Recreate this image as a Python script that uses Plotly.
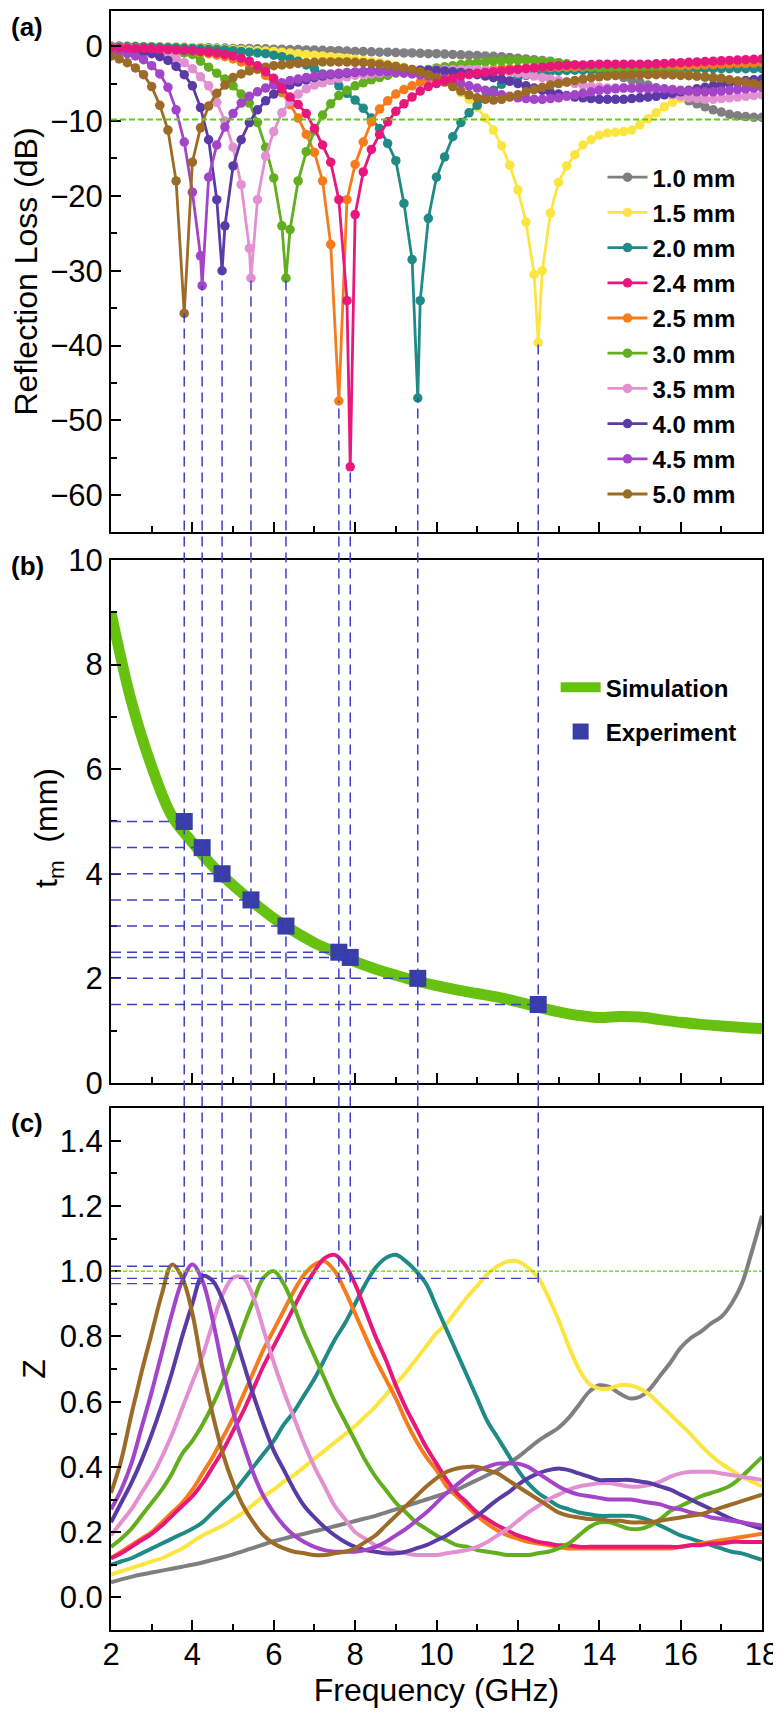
import plotly.graph_objects as go

# ---------------- data ----------------
thickness_labels = ["1.0 mm", "1.5 mm", "2.0 mm", "2.4 mm", "2.5 mm",
                    "3.0 mm", "3.5 mm", "4.0 mm", "4.5 mm", "5.0 mm"]
colors = ["#7f7f81", "#fde541", "#1f8a86", "#e8177c", "#f57c1c",
          "#61ae1f", "#e290d1", "#5a3ba6", "#a444c8", "#9c6b27"]

# frequency grid of the reflection-loss measurements (GHz)
freq_rl = [round(2.0 + 0.2 * i, 1) for i in range(81)]

rl_10 = [0.0, 0.0, 0.0, -0.05, -0.05, -0.1, -0.1, -0.1, -0.15, -0.15,
         -0.2, -0.2, -0.2, -0.25, -0.25, -0.3, -0.3, -0.3, -0.35, -0.35,
         -0.4, -0.4, -0.45, -0.45, -0.5, -0.5, -0.55, -0.6, -0.6, -0.65,
         -0.7, -0.7, -0.75, -0.8, -0.8, -0.85, -0.9, -0.9, -0.95, -1.0,
         -1.0, -1.05, -1.1, -1.15, -1.2, -1.25, -1.3, -1.35, -1.4, -1.5,
         -1.6, -1.7, -1.8, -1.9, -2.0, -2.2, -2.4, -2.6, -2.8, -3.0,
         -3.3, -3.6, -3.9, -4.2, -4.5, -4.8, -5.2, -5.6, -6.0, -6.5,
         -6.9, -7.3, -7.7, -8.1, -8.5, -8.8, -9.1, -9.3, -9.4, -9.5,
         -9.5]
rl_15 = [0.0, 0.0, 0.0, 0.0, -0.05, -0.05, -0.1, -0.1, -0.15, -0.15,
         -0.2, -0.25, -0.3, -0.35, -0.4, -0.45, -0.5, -0.55, -0.6, -0.65,
         -0.7, -0.8, -0.9, -1.0, -1.1, -1.2, -1.3, -1.4, -1.5, -1.6,
         -1.75, -1.9, -2.05, -2.2, -2.4, -2.6, -2.8, -3.1, -3.4, -3.8,
         -4.3, -4.8, -5.4, -6.2, -7.1, -8.2, -9.6, -11.2, -13.3, -15.9,
         -19.2, -23.5, -30.5, -30.0, -22.3, -18.2, -16.0, -14.5, -13.2, -12.5,
         -11.9, -11.6, -11.5, -11.4, -11.2, -10.5, -9.7, -8.9, -8.1, -7.5,
         -7.0, -6.6, -6.3, -6.0, -5.8, -5.6, -5.5, -5.4, -5.3, -5.2,
         -5.2]
rl_20 = [0.0, 0.0, -0.05, -0.05, -0.1, -0.1, -0.15, -0.2, -0.2, -0.25,
         -0.3, -0.35, -0.4, -0.45, -0.5, -0.6, -0.7, -0.8, -0.9, -1.0,
         -1.2, -1.4, -1.7, -2.0, -2.5, -3.0, -3.7, -4.5, -5.3, -6.3,
         -7.2, -8.3, -9.6, -11.0, -13.0, -15.3, -21.0, -28.5, -34.0, -23.0,
         -17.5, -14.8, -12.1, -10.2, -8.9, -7.9, -6.9, -5.9, -5.1, -4.6,
         -4.2, -3.9, -3.7, -3.5, -3.4, -3.3, -3.25, -3.2, -3.2, -3.2,
         -3.2, -3.2, -3.2, -3.2, -3.2, -3.2, -3.15, -3.1, -3.1, -3.1,
         -3.05, -3.05, -3.0, -3.0, -3.0, -3.0, -3.0, -3.0, -3.0, -3.0,
         -3.0]
rl_24 = [-0.2, -0.2, -0.25, -0.3, -0.3, -0.35, -0.4, -0.45, -0.5, -0.55,
         -0.6, -0.7, -0.8, -0.9, -1.1, -1.3, -1.6, -2.0, -2.6, -3.4,
         -4.3, -5.6, -6.8, -7.8, -9.0, -11.0, -13.2, -15.5, -20.5, -34.0,
         -22.5, -16.8, -13.8, -11.8, -10.1, -8.7, -7.7, -6.8, -6.0, -5.4,
         -5.0, -4.6, -4.3, -4.0, -3.8, -3.6, -3.5, -3.4, -3.3, -3.2,
         -3.1, -3.0, -2.9, -2.8, -2.7, -2.6, -2.55, -2.5, -2.5, -2.45,
         -2.4, -2.4, -2.4, -2.4, -2.4, -2.4, -2.4, -2.35, -2.3, -2.25,
         -2.2, -2.15, -2.1, -2.05, -2.0, -1.95, -1.9, -1.85, -1.8, -1.75,
         -1.7]
rl_25 = [-0.2, -0.2, -0.25, -0.3, -0.35, -0.4, -0.45, -0.5, -0.6, -0.7,
         -0.8, -0.9, -1.0, -1.2, -1.4, -1.7, -2.1, -2.6, -3.1, -3.9,
         -5.0, -6.2, -7.8, -9.6, -11.8, -14.2, -18.0, -26.5, -47.4, -20.5,
         -15.8, -12.8, -10.1, -8.4, -7.3, -6.4, -5.8, -5.3, -4.8, -4.4,
         -4.1, -3.9, -3.7, -3.5, -3.4, -3.3, -3.2, -3.1, -3.0, -3.0,
         -2.95, -2.9, -2.9, -2.85, -2.85, -2.8, -2.8, -2.8, -2.8, -2.8,
         -2.8, -2.8, -2.8, -2.8, -2.8, -2.8, -2.8, -2.75, -2.7, -2.7,
         -2.65, -2.6, -2.55, -2.5, -2.45, -2.4, -2.35, -2.3, -2.3, -2.25,
         -2.2]
rl_30 = [-0.1, -0.15, -0.2, -0.25, -0.3, -0.4, -0.5, -0.6, -0.75, -0.9,
         -1.1, -2.0, -2.8, -3.6, -4.4, -5.3, -6.4, -7.6, -10.2, -13.5,
         -17.6, -24.0, -24.5, -18.0, -14.1, -11.3, -9.2, -7.7, -6.6, -5.9,
         -5.3, -4.9, -4.5, -4.2, -3.9, -3.6, -3.4, -3.3, -3.2, -3.1,
         -2.9, -2.75, -2.6, -2.45, -2.3, -2.2, -2.1, -2.0, -1.95, -1.9,
         -1.9, -1.9, -1.95, -2.0, -2.1, -2.2, -2.35, -2.5, -2.65, -2.8,
         -2.95, -3.05, -3.1, -3.1, -3.1, -3.15, -3.25, -3.35, -3.5, -3.6,
         -3.75, -3.9, -4.0, -4.15, -4.3, -4.4, -4.55, -4.7, -4.8, -4.95,
         -5.1]
rl_35 = [-0.1, -0.15, -0.2, -0.3, -0.4, -0.55, -0.8, -1.1, -1.6, -2.2,
         -3.0, -4.1, -5.3, -7.5, -10.0, -13.5, -18.5, -27.0, -20.5, -14.7,
         -11.4, -8.9, -7.4, -6.4, -5.7, -5.2, -4.9, -4.6, -4.3, -4.1,
         -3.9, -3.8, -3.7, -3.6, -3.5, -3.4, -3.3, -3.3, -3.2, -3.2,
         -3.1, -3.1, -3.1, -3.1, -3.1, -3.1, -3.2, -3.3, -3.4, -3.5,
         -3.6, -3.8, -4.0, -4.2, -4.4, -4.6, -4.8, -5.0, -5.2, -5.4,
         -5.5, -5.6, -5.6, -5.6, -5.6, -5.7, -5.9, -6.1, -6.3, -6.5,
         -6.7, -6.9, -7.0, -7.1, -7.1, -7.0, -6.9, -6.8, -6.7, -6.6,
         -6.5]
rl_40 = [-0.3, -0.4, -0.5, -0.65, -0.8, -1.0, -1.4, -1.9, -2.7, -3.8,
         -5.3, -8.2, -12.5, -20.5, -24.0, -16.0, -12.5, -10.2, -8.5, -7.3,
         -6.4, -5.7, -5.2, -4.8, -4.5, -4.2, -4.0, -3.8, -3.7, -3.6,
         -3.5, -3.4, -3.3, -3.3, -3.2, -3.2, -3.2, -3.2, -3.2, -3.2,
         -3.2, -3.3, -3.4, -3.5, -3.6, -3.8, -4.0, -4.2, -4.4, -4.7,
         -5.0, -5.3, -5.6, -5.9, -6.2, -6.4, -6.6, -6.8, -6.9, -7.0,
         -7.1, -7.1, -7.1, -7.1, -7.0, -6.9, -6.8, -6.7, -6.5, -6.3,
         -6.1, -5.9, -5.7, -5.5, -5.3, -5.1, -4.9, -4.8, -4.6, -4.5,
         -4.4]
rl_45 = [-0.6, -0.8, -1.0, -1.3, -1.8, -2.6, -3.7, -5.5, -8.5, -12.8,
         -19.5, -28.0, -17.5, -13.2, -10.8, -9.0, -7.6, -6.7, -6.1, -5.6,
         -5.2, -4.9, -4.6, -4.4, -4.2, -4.0, -3.85, -3.7, -3.6, -3.5,
         -3.45, -3.4, -3.4, -3.4, -3.45, -3.5, -3.6, -3.7, -3.85, -4.0,
         -4.2, -4.4, -4.7, -5.0, -5.3, -5.6, -5.9, -6.2, -6.5, -6.7,
         -6.9, -7.0, -7.1, -7.1, -7.0, -6.9, -6.7, -6.5, -6.3, -6.1,
         -5.9, -5.8, -5.7, -5.6, -5.6, -5.6, -5.6, -5.6, -5.7, -5.8,
         -5.9, -6.0, -6.1, -6.1, -6.1, -6.0, -5.9, -5.8, -5.7, -5.6,
         -5.5]
rl_50 = [-1.3, -1.7, -2.2, -2.9, -3.8, -5.4, -7.9, -11.2, -18.0, -35.7,
         -15.5, -10.9, -8.0, -6.3, -5.2, -4.2, -3.7, -3.3, -3.0, -2.8,
         -2.6, -2.5, -2.4, -2.3, -2.2, -2.15, -2.1, -2.1, -2.1, -2.1,
         -2.15, -2.2, -2.3, -2.4, -2.55, -2.7, -2.9, -3.1, -3.4, -3.8,
         -4.3, -4.8, -5.4, -6.0, -6.5, -6.9, -7.1, -7.2, -7.1, -6.8,
         -6.5, -6.1, -5.8, -5.5, -5.2, -5.0, -4.8, -4.6, -4.4, -4.2,
         -4.1, -4.0, -3.9, -3.85, -3.8, -3.8, -3.8, -3.8, -3.8, -3.85,
         -3.9, -3.95, -4.0, -4.1, -4.2, -4.3, -4.5, -4.65, -4.8, -5.0,
         -5.2]
rl_series = [rl_10, rl_15, rl_20, rl_24, rl_25, rl_30, rl_35, rl_40, rl_45, rl_50]

# reflection-loss minima (for thicknesses 1.5 ... 5.0 mm)
dip_labels = ["1.5 mm", "2.0 mm", "2.4 mm", "2.5 mm", "3.0 mm",
              "3.5 mm", "4.0 mm", "4.5 mm", "5.0 mm"]
dip_freq = [12.5, 9.54, 7.88, 7.6, 6.3, 5.44, 4.73, 4.24, 3.8]
dip_rl = [-39.6, -47.0, -56.2, -47.4, -31.0, -31.0, -30.0, -32.0, -35.7]
dip_thick = [1.5, 2.0, 2.4, 2.5, 3.0, 3.5, 4.0, 4.5, 5.0]

# panel (b): quarter-wavelength simulation
freq_sim = [2.0, 2.5, 3.0, 3.5, 4.0, 4.5, 5.0, 5.5, 6.0, 6.5, 7.0, 7.5, 8.0,
            8.5, 9.0, 9.5, 10.0, 10.5, 11.0, 11.5, 12.0, 12.5, 13.0, 13.5,
            14.0, 14.5, 15.0, 15.5, 16.0, 16.5, 17.0, 17.5, 18.0]
tm_sim = [9.0, 7.3, 6.05, 5.1, 4.6, 4.15, 3.78, 3.45, 3.15, 2.9, 2.68, 2.5,
          2.32, 2.18, 2.06, 1.95, 1.86, 1.78, 1.71, 1.64, 1.55, 1.45, 1.36,
          1.29, 1.25, 1.27, 1.26, 1.21, 1.16, 1.12, 1.09, 1.06, 1.04]

# panel (c): normalized impedance Z
freq_z = [2.0 + 0.25 * j for j in range(65)]
z_10 = [0.046, 0.055, 0.063, 0.07, 0.076, 0.082, 0.088, 0.094,
        0.10, 0.107, 0.115, 0.123, 0.132, 0.142, 0.152, 0.162,
        0.172, 0.18, 0.188, 0.195, 0.203, 0.21, 0.218, 0.226,
        0.234, 0.242, 0.25, 0.26, 0.27, 0.28, 0.29, 0.30,
        0.31, 0.32, 0.33, 0.345, 0.36, 0.375, 0.39, 0.41,
        0.43, 0.455, 0.48, 0.50, 0.52, 0.55, 0.59, 0.63,
        0.65, 0.645, 0.625, 0.61, 0.615, 0.64, 0.68, 0.72,
        0.765, 0.795, 0.815, 0.84, 0.86, 0.90, 0.96, 1.06,
        1.17]
z_15 = [0.07, 0.08, 0.09, 0.10, 0.11, 0.12, 0.135, 0.15,
        0.17, 0.19, 0.205, 0.22, 0.24, 0.26, 0.285, 0.31,
        0.33, 0.355, 0.375, 0.40, 0.425, 0.45, 0.475, 0.50,
        0.525, 0.555, 0.585, 0.62, 0.655, 0.69, 0.73, 0.77,
        0.81, 0.84, 0.88, 0.92, 0.955, 0.99, 1.015, 1.03,
        1.03, 1.01, 0.98, 0.92, 0.85, 0.77, 0.70, 0.655,
        0.64, 0.64, 0.65, 0.65, 0.64, 0.62, 0.59, 0.56,
        0.53, 0.50, 0.465, 0.435, 0.41, 0.39, 0.37, 0.355,
        0.34]
z_20 = [0.10, 0.11, 0.12, 0.135, 0.15, 0.165, 0.18, 0.195,
        0.21, 0.23, 0.26, 0.29, 0.32, 0.36, 0.40, 0.44,
        0.48, 0.53, 0.57, 0.62, 0.67, 0.73, 0.79, 0.84,
        0.90, 0.96, 1.01, 1.04, 1.05, 1.03, 1.0, 0.96,
        0.89, 0.82, 0.75, 0.68, 0.61, 0.54, 0.49, 0.44,
        0.39, 0.35, 0.32, 0.30, 0.28, 0.27, 0.26, 0.255,
        0.25, 0.25, 0.25, 0.25, 0.245, 0.235, 0.22, 0.205,
        0.19, 0.18, 0.17, 0.16, 0.15, 0.14, 0.135, 0.125,
        0.115]
z_24 = [0.12, 0.135, 0.155, 0.175, 0.195, 0.22, 0.25, 0.28,
        0.31, 0.35, 0.40, 0.45, 0.51, 0.57, 0.64, 0.71,
        0.77, 0.83, 0.89, 0.95, 1.0, 1.04, 1.05, 1.02,
        0.96, 0.88, 0.80, 0.73, 0.65, 0.58, 0.52, 0.46,
        0.41, 0.36, 0.32, 0.29, 0.26, 0.24, 0.22, 0.205,
        0.19, 0.18, 0.17, 0.165, 0.16, 0.16, 0.155, 0.155,
        0.155, 0.155, 0.155, 0.155, 0.155, 0.155, 0.155, 0.155,
        0.155, 0.16, 0.16, 0.165, 0.165, 0.17, 0.17, 0.17,
        0.17]
z_25 = [0.12, 0.14, 0.16, 0.18, 0.20, 0.23, 0.26, 0.29,
        0.33, 0.38, 0.43, 0.49, 0.55, 0.62, 0.69, 0.76,
        0.82, 0.88, 0.94, 0.99, 1.02, 1.03, 1.0, 0.94,
        0.87, 0.80, 0.73, 0.67, 0.61, 0.54, 0.48, 0.43,
        0.39, 0.34, 0.31, 0.28, 0.25, 0.225, 0.205, 0.19,
        0.18, 0.17, 0.165, 0.16, 0.155, 0.15, 0.15, 0.15,
        0.15, 0.15, 0.15, 0.15, 0.15, 0.15, 0.15, 0.15,
        0.155, 0.16, 0.165, 0.17, 0.175, 0.18, 0.185, 0.19,
        0.195]
z_30 = [0.155, 0.18, 0.21, 0.25, 0.29, 0.33, 0.38, 0.44,
        0.48, 0.53, 0.59, 0.66, 0.74, 0.83, 0.91, 0.98,
        1.0, 0.96, 0.89, 0.81, 0.74, 0.67, 0.60, 0.54,
        0.48, 0.42, 0.37, 0.33, 0.29, 0.26, 0.23, 0.21,
        0.19, 0.175, 0.16, 0.155, 0.145, 0.14, 0.135, 0.13,
        0.13, 0.13, 0.135, 0.14, 0.15, 0.165, 0.19, 0.215,
        0.23, 0.23, 0.22, 0.21, 0.21, 0.22, 0.24, 0.265,
        0.28, 0.295, 0.31, 0.32, 0.33, 0.345, 0.37, 0.40,
        0.43]
z_35 = [0.19, 0.23, 0.27, 0.32, 0.37, 0.43, 0.50, 0.58,
        0.66, 0.74, 0.84, 0.93, 0.98, 0.98, 0.92, 0.82,
        0.72, 0.63, 0.55, 0.47, 0.40, 0.34, 0.28, 0.24,
        0.20, 0.18, 0.16, 0.15, 0.14, 0.135, 0.13, 0.13,
        0.13, 0.135, 0.14, 0.145, 0.155, 0.17, 0.19, 0.21,
        0.235, 0.26, 0.28, 0.30, 0.315, 0.33, 0.34, 0.345,
        0.35, 0.35, 0.345, 0.34, 0.34, 0.345, 0.355, 0.37,
        0.38, 0.385, 0.385, 0.385, 0.38, 0.375, 0.37, 0.365,
        0.36]
z_40 = [0.23, 0.29, 0.35, 0.42, 0.50, 0.59, 0.69, 0.80,
        0.90, 0.985, 0.97, 0.91, 0.82, 0.72, 0.62, 0.53,
        0.45, 0.39, 0.33, 0.28, 0.245, 0.215, 0.19, 0.17,
        0.155, 0.145, 0.14, 0.135, 0.135, 0.14, 0.15, 0.16,
        0.175, 0.19, 0.21, 0.23, 0.25, 0.275, 0.30, 0.32,
        0.345, 0.365, 0.38, 0.39, 0.395, 0.39, 0.38, 0.37,
        0.36, 0.36, 0.36, 0.36, 0.355, 0.35, 0.34, 0.33,
        0.315, 0.30, 0.285, 0.27, 0.255, 0.24, 0.23, 0.22,
        0.21]
z_45 = [0.27, 0.33, 0.41, 0.52, 0.63, 0.75, 0.87, 0.97,
        1.02, 0.97, 0.85, 0.70, 0.57, 0.47, 0.38, 0.31,
        0.26, 0.22, 0.19, 0.17, 0.155, 0.145, 0.14, 0.14,
        0.14, 0.145, 0.155, 0.17, 0.19, 0.21, 0.235, 0.26,
        0.29, 0.32, 0.345, 0.37, 0.39, 0.40, 0.41, 0.41,
        0.41, 0.40, 0.38, 0.36, 0.34, 0.325, 0.315, 0.31,
        0.305, 0.30, 0.30, 0.30, 0.295, 0.29, 0.285, 0.275,
        0.27, 0.26, 0.255, 0.245, 0.24, 0.235, 0.23, 0.225,
        0.22]
z_50 = [0.32, 0.42, 0.56, 0.69, 0.81, 0.93, 1.02, 0.98,
        0.87, 0.70, 0.56, 0.44, 0.35, 0.28, 0.23, 0.19,
        0.165, 0.15, 0.14, 0.135, 0.13, 0.13, 0.135, 0.14,
        0.15, 0.17, 0.19, 0.22, 0.25, 0.28, 0.31, 0.34,
        0.365, 0.385, 0.395, 0.40, 0.40, 0.39, 0.38, 0.36,
        0.34, 0.32, 0.30, 0.28, 0.26, 0.25, 0.245, 0.24,
        0.24, 0.235, 0.235, 0.23, 0.23, 0.23, 0.235, 0.24,
        0.245, 0.25, 0.255, 0.265, 0.275, 0.285, 0.295, 0.305,
        0.315]
z_series = [z_10, z_15, z_20, z_24, z_25, z_30, z_35, z_40, z_45, z_50]

# guide lines in panel (c): (Z level, end frequency)
z_guides = [(1.015, 3.8), (0.978, 12.5), (0.962, 4.73)]
z_guide_bottom = 0.965

for s in rl_series:
    assert len(s) == len(freq_rl), len(s)
for s in z_series:
    assert len(s) == len(freq_z), len(s)

# ---------------- layout geometry ----------------
# the page body has an 8 px default margin, so the figure is drawn 8 px smaller
BODY = 8
PAGE_W, PAGE_H = 781, 1716
W, H = PAGE_W - BODY, PAGE_H - BODY
PLOT_L, PLOT_R, PLOT_T, PLOT_B = 111, 762, 11, 1630   # plot area in page pixels
ML, MT = PLOT_L - BODY, PLOT_T - BODY
MR, MB = PAGE_W - PLOT_R, PAGE_H - PLOT_B
PW, PH = PLOT_R - PLOT_L, PLOT_B - PLOT_T

range_a = [-64.9, 4.7]
range_b = [0, 10]
range_c = [-0.1, 1.5]
dom_a = [0.6782, 1.0]
dom_b = [0.3379, 0.6609]
dom_c = [0.0, 0.3224]


def px_x(xpix):
    return (xpix - PLOT_L) / PW


def px_y(ypix):
    return (PLOT_B - ypix) / PH


def frac(v, dom, rng):
    return dom[0] + (v - rng[0]) / (rng[1] - rng[0]) * (dom[1] - dom[0])


def with_dip(xs, ys, fd, yd):
    pts = [(x, y) for x, y in zip(xs, ys) if abs(x - fd) > 1e-6]
    pts.append((fd, yd))
    pts.sort()
    return [p[0] for p in pts], [p[1] for p in pts]


fig = go.Figure()

# ---- panel (a) reflection loss ----
draw_order = [0, 1, 2, 4, 5, 6, 7, 8, 9, 3]
for k in draw_order:
    lab = thickness_labels[k]
    xs, ys = freq_rl, rl_series[k]
    if lab in dip_labels:
        d = dip_labels.index(lab)
        xs, ys = with_dip(xs, ys, dip_freq[d], dip_rl[d])
    fig.add_trace(go.Scatter(
        x=xs, y=ys, mode="lines+markers", name="<b>%s</b>" % lab,
        line=dict(color=colors[k], width=2.8),
        marker=dict(color=colors[k], size=9.5),
        legendgroup=lab, legendrank=k + 1, legend="legend",
        xaxis="x", yaxis="y"))

# ---- panel (b) ----
fig.add_trace(go.Scatter(
    x=freq_sim, y=tm_sim, mode="lines", name="<b>Simulation</b>",
    line=dict(color="#67c20f", width=11, shape="spline"),
    legend="legend2", legendgroup="sim", xaxis="x2", yaxis="y2"))
fig.add_trace(go.Scatter(
    x=dip_freq, y=dip_thick, mode="markers", name="<b>Experiment</b>",
    marker=dict(symbol="square", size=17, color="#383ea6"),
    legend="legend2", legendgroup="exp", xaxis="x2", yaxis="y2"))

# ---- panel (c) ----
for k in [0, 1, 2, 4, 3, 5, 6, 7, 8, 9]:
    fig.add_trace(go.Scatter(
        x=freq_z, y=z_series[k], mode="lines", showlegend=False,
        line=dict(color=colors[k], width=4, shape="spline"),
        xaxis="x3", yaxis="y3"))

# ---------------- shapes ----------------
blue = "#3d3fc4"
shapes = []
shapes.append(dict(type="line", xref="x", yref="y", x0=2, x1=18, y0=-9.8, y1=-9.8,
                   line=dict(color="#5fcf10", width=2, dash="6px,3px"), layer="above"))
shapes.append(dict(type="line", xref="x3", yref="y3", x0=2, x1=18, y0=1.0, y1=1.0,
                   line=dict(color="#5fcf10", width=1.2, dash="4px,2px"), layer="above"))
for f, r in zip(dip_freq, dip_rl):
    shapes.append(dict(type="line", xref="x", yref="paper", x0=f, x1=f,
                       y0=frac(z_guide_bottom, dom_c, range_c), y1=frac(r, dom_a, range_a),
                       line=dict(color=blue, width=1.5, dash="10px,6px"), layer="above"))
for f, t in zip(dip_freq, dip_thick):
    shapes.append(dict(type="line", xref="x2", yref="y2", x0=2, x1=f, y0=t, y1=t,
                       line=dict(color=blue, width=1.5, dash="10px,6px"), layer="above"))
for zv, f in z_guides:
    shapes.append(dict(type="line", xref="x3", yref="y3", x0=2, x1=f, y0=zv, y1=zv,
                       line=dict(color=blue, width=1.3, dash="10px,6px"), layer="above"))

# ---------------- axes ----------------
tick_font = dict(family="Liberation Sans, Arial, sans-serif", size=31, color="black")
title_font = dict(family="Liberation Sans, Arial, sans-serif", size=32, color="black")


def xax(anchor, labels, match=None):
    d = dict(range=[2, 18], anchor=anchor, domain=[0, 1], showline=True, linewidth=2,
             linecolor="black", mirror=True, ticks="inside", ticklen=10, tickwidth=2,
             tickcolor="black", tick0=2, dtick=2, showgrid=False, zeroline=False,
             showticklabels=labels, tickfont=tick_font, ticklabelstandoff=-4,
             ticklabeloverflow="allow",
             minor=dict(ticks="inside", ticklen=6, tickwidth=2, tick0=2, dtick=1,
                        tickcolor="black", showgrid=False))
    if match:
        d["matches"] = match
    return d


def yax(anchor, dom, rng, dtick, mdtick, title, standoff, fmt=None):
    d = dict(range=rng, domain=dom, anchor=anchor, showline=True, linewidth=2,
             linecolor="black", mirror=True, ticks="inside", ticklen=10, tickwidth=2,
             tickcolor="black", tick0=0, dtick=dtick, showgrid=False, zeroline=False,
             tickfont=tick_font, ticklabelstandoff=0,
             minor=dict(ticks="inside", ticklen=6, tickwidth=2, tick0=0, dtick=mdtick,
                        tickcolor="black", showgrid=False))
    if title:
        d["title"] = dict(text=title, font=title_font, standoff=standoff)
    if fmt:
        d["tickformat"] = fmt
    return d


def panel_label(text, ypix):
    return dict(text="<b>%s</b>" % text, xref="paper", yref="paper",
                x=px_x(27), y=px_y(ypix), xanchor="center",
                yanchor="middle", showarrow=False, font=dict(size=26, color="black"))


annotations = [panel_label("(a)", 27), panel_label("(b)", 566), panel_label("(c)", 1123),
               dict(text="t<sub>m</sub>  (mm)", xref="paper", yref="paper",
                    x=px_x(48), y=px_y(828), xanchor="center", yanchor="middle",
                    textangle=-90, showarrow=False, font=title_font)]

fig.update_layout(
    width=W, height=H, margin=dict(l=ML, r=MR, t=MT, b=MB, autoexpand=False),
    paper_bgcolor="white", plot_bgcolor="white",
    font=dict(family="Liberation Sans, Arial, sans-serif", color="black"),
    xaxis=xax("y", False),
    xaxis2=xax("y2", False, "x"),
    xaxis3=dict(xax("y3", True, "x"),
                title=dict(text="Frequency (GHz)", font=title_font, standoff=2)),
    yaxis=yax("x", dom_a, range_a, 10, 5, "Reflection Loss (dB)", 20),
    yaxis2=yax("x2", dom_b, range_b, 2, 1, None, 0),
    yaxis3=yax("x3", dom_c, range_c, 0.2, 0.1, "Z", 4, ".1f"),
    legend=dict(x=0.755, y=0.911, xanchor="left", yanchor="top", bgcolor="rgba(0,0,0,0)",
                font=dict(family="Liberation Sans, Arial, sans-serif", size=24, color="black"),
                tracegroupgap=1, itemwidth=40),
    legend2=dict(x=0.683, y=0.596, xanchor="left", yanchor="top", bgcolor="rgba(0,0,0,0)",
                 font=dict(family="Liberation Sans, Arial, sans-serif", size=24, color="black"),
                 tracegroupgap=10, itemwidth=40),
    shapes=shapes,
    annotations=annotations,
    showlegend=True,
)

fig.write_html("out.html")
